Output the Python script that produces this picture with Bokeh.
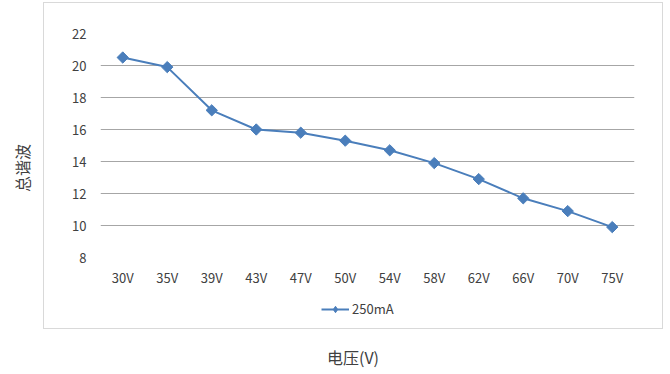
import numpy as np
from bokeh.plotting import figure
from bokeh.layouts import row, column
from bokeh.models import (FactorRange, Range1d, Legend, LegendItem, Div,
                          SingleIntervalTicker, ColumnDataSource)
from bokeh.embed import file_html
from bokeh.resources import INLINE

categories = ["30V", "35V", "39V", "43V", "47V", "50V", "54V", "58V", "62V", "66V", "70V", "75V"]
values_250mA = [20.5, 19.9, 17.2, 16.0, 15.8, 15.3, 14.7, 13.9, 12.9, 11.7, 10.9, 9.9]
series_name = "250mA"
y_title = "总谐波"
x_title = "电压(V)"

FONT = "Noto Sans CJK SC"
BLUE = "#4A7EBB"
TXT = "#404040"

src = ColumnDataSource(dict(x=categories, y=values_250mA))

# main chart
p = figure(width=618, height=289, output_backend="svg", toolbar_location=None,
           x_range=FactorRange(factors=categories, range_padding=0),
           y_range=Range1d(8, 22),
           min_border_left=56, min_border_right=28, min_border_top=30, min_border_bottom=35)
p.outline_line_color = None
p.background_fill_color = "white"
p.border_fill_color = "white"
p.xgrid.grid_line_color = None
p.ygrid.grid_line_color = "#A6A6A6"
p.ygrid.grid_line_width = 1
p.yaxis.ticker = SingleIntervalTicker(interval=2)
for ax in (p.xaxis, p.yaxis):
    ax.axis_line_color = None
    ax.major_tick_line_color = None
    ax.minor_tick_line_color = None
    ax.major_tick_out = 0
    ax.major_tick_in = 0
    ax.minor_tick_out = 0
    ax.major_label_text_font = FONT
    ax.major_label_text_font_size = "13px"
    ax.major_label_text_color = TXT
p.yaxis.major_label_standoff = 14
p.xaxis.major_label_standoff = 10

p.line("x", "y", source=src, line_color=BLUE, line_width=2)
p.scatter("x", "y", source=src, marker="square", angle=np.pi / 4, size=8,
          fill_color=BLUE, line_color=BLUE)

# legend strip under the chart (series drawn out of view, only its legend shows)
lfig = figure(width=618, height=36, output_backend="svg", toolbar_location=None,
              x_range=FactorRange(factors=categories, range_padding=0),
              y_range=Range1d(100, 101), x_axis_location=None, y_axis_location=None,
              min_border=0)
lfig.outline_line_color = None
lfig.grid.visible = False
lln = lfig.line("x", "y", source=src, line_color=BLUE, line_width=2)
lsc = lfig.scatter("x", "y", source=src, marker="diamond", size=19,
                   fill_color=BLUE, line_color=BLUE)
legend = Legend(items=[LegendItem(label=series_name, renderers=[lln, lsc])],
                orientation="horizontal", location=(221, 10),
                border_line_color=None, background_fill_alpha=0,
                label_text_font=FONT, label_text_font_size="13px", label_text_color=TXT,
                glyph_width=28, glyph_height=16, padding=2, margin=0, label_standoff=3)
lfig.add_layout(legend)

boxed = column(p, lfig, styles={"border": "1px solid #D9D9D9"}, margin=(2, 0, 0, 0))

ydiv = Div(width=43, height=330, margin=0, text=(
    '<div style="position:relative;width:43px;height:330px;">'
    '<span style="position:absolute;left:22px;top:168px;transform:translate(-50%,-50%) rotate(-90deg);'
    "white-space:nowrap;font-family:'Noto Sans CJK SC';font-size:16px;color:#404040;\">"
    + y_title + '</span></div>'))

xdiv = Div(width=620, height=44, margin=0, text=(
    '<div style="position:relative;width:620px;height:44px;">'
    '<span style="position:absolute;left:310px;top:28px;transform:translate(-50%,-50%);'
    "white-space:nowrap;font-family:'Noto Sans CJK SC';font-size:16px;color:#404040;\">"
    + x_title + '</span></div>'))

layout = row(ydiv, column(boxed, xdiv))

open("out.html", "w").write(file_html(layout, INLINE))
